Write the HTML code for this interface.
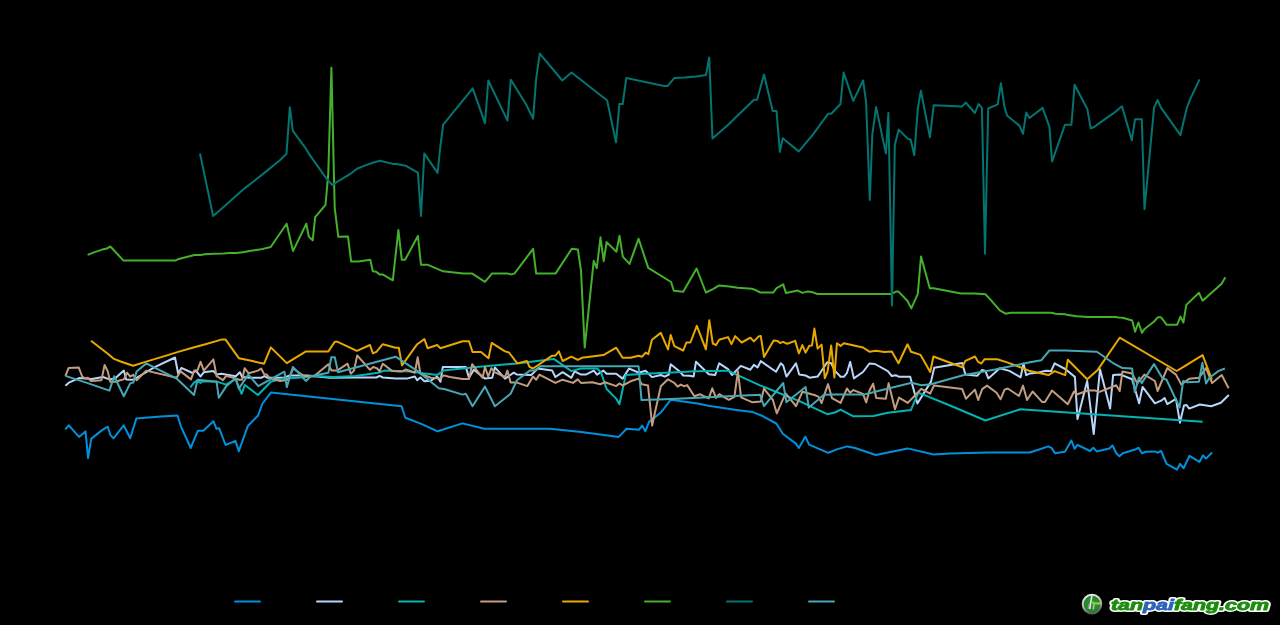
<!DOCTYPE html>
<html><head><meta charset="utf-8"><title>chart</title>
<style>
html,body{margin:0;padding:0;background:#000;width:1280px;height:625px;overflow:hidden}
svg{display:block}
.s{fill:none;stroke-width:2;stroke-linejoin:round;stroke-linecap:butt}
text{font-family:"Liberation Sans",sans-serif}
</style></head><body>
<svg width="1280" height="625" viewBox="0 0 1280 625">
<rect width="1280" height="625" fill="#000"/>
<polyline class="s" stroke="#0090dc" points="65.2,429.4 68.8,425.3 79,436.9 85.5,431.4 88.1,458.2 91.2,438.9 101.7,430.4 107.8,426.7 110.3,434.8 113.5,438.3 123.7,425.3 130.2,438.3 136.3,418.6 160.6,416.6 177.5,415.5 180.9,426.3 190.7,448 197.8,430.8 203.3,430.8 213.4,421.2 216.5,428.8 219.1,428.1 225.6,445 235.4,440.9 238.8,451.1 248,425.7 258.1,415.5 262.2,404 270.9,392.6 401.6,406.3 405.3,417.8 421.9,424.1 437.5,431.3 462.5,423.4 484.4,428.8 550,428.8 581.3,431.9 618.8,436.9 626.6,428.8 639.1,429.7 642.2,425.6 645.3,431.3 649.1,421.9 660.9,412.5 670.9,399.7 686.6,402 697.5,403.6 708.4,405.8 734.7,409.7 752.2,411.9 763.1,416.3 776.3,423.5 782.8,433.8 795.9,443.6 798.8,448 805.4,436.6 809.1,444.7 828.3,452.8 837.5,449.1 847.4,446.4 855,448 875.8,455 907.5,448.4 933.8,454.5 950,453.6 988.3,452.5 1029.8,452.5 1048.4,446.4 1051.7,448.1 1055,453.2 1064.9,451.8 1071.4,440.5 1074.7,448.8 1077.5,444.8 1090,451 1093.3,447.7 1096.6,451.4 1109.3,448.6 1112.5,445.5 1116.3,453.2 1119.5,456.2 1122.8,453.2 1136,449.2 1138.6,447.7 1141.9,453.2 1145.8,451.8 1154.5,451.4 1157.8,452.7 1161.1,451 1166.6,463.9 1176.9,469.6 1180.1,463.9 1183.6,468.3 1189.5,455.8 1199.4,461.9 1203.1,455.3 1206,458.6 1212.1,452.5"/>
<polyline class="s" stroke="#b8d6fc" points="65.4,385.8 69.4,382.3 79,378.1 91.8,379.1 103,377 109.4,379.4 115,378.6 123.8,370.6 126.2,379.4 133.4,379.7 136.6,377.8 154.2,367.4 175,357.5 178.2,373.8 181.4,367.9 192.6,373 195.8,370.6 200.6,376.5 203.8,372.2 213.4,371.1 216.6,374.6 221.4,373.8 235.8,376.2 239.8,372.2 242.2,377 250,377.8 261.2,377.8 264.4,376.2 267.6,377.8 283.6,377.8 290,375.4 307.6,375.4 330,377.8 354,377.5 376.4,377.5 379.6,375.9 382.8,377.5 395.6,378.6 406.8,378.6 414.8,376.5 417.2,380.2 420.4,377.5 424.4,381.3 430.8,380.7 437.2,376.5 440.4,381.8 442.8,366.9 465.8,366.9 469,377.8 473.8,369.8 485,378.6 492.2,377.8 494.9,367.4 505,378.6 513.8,372.7 517,374.6 531.4,374.9 537.8,368.5 552.2,370.6 555.4,377 562.6,372.2 571.4,377.8 574.6,371.4 581,374.6 585.8,374.6 593.8,370.6 597,374.6 603.4,370.6 606.6,373.8 616.2,373.8 622.6,378.6 629,368.5 638.6,372.7 645.6,370.7 652,377.1 660.8,375 664.8,376.6 668.8,374.5 670.7,364.3 680,371.8 683.2,375.5 689.6,375.8 693.6,376.6 696,361.7 708.8,374.2 715.2,375 719.2,363.3 728,369.1 732,375 740.8,365.9 750.4,369.7 753.9,364.9 757.6,367.5 760.8,361.1 776,371.8 780.8,363.3 783.2,365.4 786.4,376.6 796,363.3 799.2,374.5 805.6,375.5 809.6,377.7 817.6,376.6 821.6,370.7 827.2,362.2 831.2,363.3 835,370.9 840.6,376.8 843.8,376.8 847,372.8 850.2,361.9 853.9,378.4 863,372 869.4,363.5 875,364 887.8,371.2 891.8,376 895.8,375.2 899,376.8 910.2,376.8 917.4,403.5 931,381.6 934.2,367.7 962.2,362.9 965.4,374.4 977.4,375.7 982.2,369.9 985.4,370.9 988.3,378.4 999.8,368.3 1009.4,370.9 1020.6,377.3 1023.5,363.5 1026.2,375.2 1030,373.4 1038.8,372.5 1045.8,370.8 1051.1,371.1 1054.6,363.4 1065.2,369 1074.9,376.9 1077.5,419.1 1087.2,381 1093.7,434.1 1100,369.3 1110.1,408.6 1113.1,375.1 1120.6,374.6 1132.1,379.2 1139.1,403.3 1142.6,386.9 1154.9,403.3 1161.1,400.7 1164.6,398 1167.3,404.2 1176,398.9 1179.9,422.7 1184,405.6 1186.6,405.1 1189.2,408.6 1199.8,404.5 1211.2,406.3 1220.9,402.8 1228.8,395"/>
<polyline class="s" stroke="#02b4b2" points="190.4,387.4 194,382.6 197.2,380.6 200.4,383 202,381.4 216.4,381.4 226,384.6 235.6,379 241.6,393.8 244.8,385 258,395 270.8,381.8 282,378.6 298,377.8 314,375.9 333.2,377 355.6,375.9 378,372.7 384.4,370.6 410,371.4 422.8,373.3 437.2,374.9 443.6,370.6 450,369.8 477,366.9 517,363.4 533,361.5 553.8,358.9 571.4,371.1 581,368.5 597,368.5 601,372.2 606.6,389 616.2,398.6 619.4,404.2 625.8,374.9 645,373.8 672,372.6 696,371.3 728,370.7 739.2,375.8 760,385.4 784,395 800,401.4 827.2,414.2 835,412.5 840.6,409.6 853.4,416.3 873.4,416 887.8,412.8 911,409.9 918.2,392.8 921.4,393.9 950,405.5 985.4,420.5 1020.3,409.2 1202.6,421.8"/>
<polyline class="s" stroke="#c49c80" points="65.4,376.2 68.6,367.9 78.7,367.4 82.2,376.5 85.4,378.6 87.8,377.8 91,381 101.4,380.2 104.6,365 107.8,371.4 110.2,381.8 115,381.8 123.8,379.4 127,372.7 130.2,376.5 133.4,374.9 136.6,380.2 146.2,370.6 176.6,377.8 180.6,371.4 191,379.4 194.2,370.6 197.4,370.6 200.6,361.8 203.8,370.6 213.4,359.4 216.6,376.2 223,380.2 226.2,375.9 232.6,377.5 239,379.7 242.2,379.7 244.6,368.2 248.6,373.3 258,370.6 261.2,368.5 264.4,374.6 266.8,374.6 270,378.6 280.4,381 288.4,379.4 293.2,368.5 304.4,376.2 314,376.2 328.4,364.2 331.6,370.6 337.2,370.6 347.6,363.7 350.8,373.8 354,370.6 357.2,355.4 370,369.8 373.2,366.9 377.2,368.5 379.6,371.4 382.8,363.7 392.4,371.1 402,371.4 406,369.5 414.8,372.7 417.7,357.3 420.4,373.8 430.8,377.8 440.4,378.6 443.6,375.4 450,377 462.6,379.1 469,379.1 472.2,364.2 477,370.6 482.6,377.8 485,366.9 488.2,376.5 491.4,368.2 494.6,372.2 505,377 507.4,370.6 510.6,382.6 517,382.6 527.4,386.1 533,376.5 536.2,379.7 539.4,374.6 555.4,382.9 562.6,379.7 573,382.9 577.8,379.4 581,382.9 592.2,382.3 600.2,384.2 605,382.3 616.2,386.1 619.4,383.4 622.6,385.5 630.6,381.3 638.6,378.6 641.8,384.2 648,385.4 652.2,425.6 654.4,415 660.8,386.2 668,379.3 674.4,383 677.6,386.7 680.8,384.6 684,386.2 687.2,385.1 694.4,396.3 700,394.2 704,396.3 708.8,398.2 712.3,388.3 716,397.9 719.2,394.2 728.8,399.8 734.4,396.9 737.9,371.3 741.1,397.4 752,402.2 760.8,401.4 764,388.6 772.8,399.8 776.8,413.4 785.6,393.4 796,406.2 802.4,391.8 814.4,395 818.4,396.6 821.6,403 828,384.1 832,398.2 840.6,402.9 847,388.5 850.2,392.8 853.4,390.1 863,393.9 866.2,402.4 869.4,390.7 873.1,383.7 876.3,398.1 885.9,398.7 888.6,383.2 895,409.3 899,397.6 907.8,402.9 921.4,388.8 930.2,393.6 933.9,385.6 962.2,389.1 965.9,398.7 975,389.6 978.2,400 982.2,389.1 987,385.6 996.6,392.8 1000.6,399.2 1004.6,389.6 1007.8,388.5 1019,396 1023,385.6 1027,400 1032.6,391.5 1042.3,402.1 1045,402.1 1052,390.5 1067.8,404.2 1074,391.5 1076.6,394.5 1088.1,390.5 1095.1,390.5 1099.5,391.9 1116.2,385.2 1119.7,391 1122.4,371.6 1132.1,373.4 1137.3,383.4 1144.4,374.6 1154.9,381 1157.6,391 1167.3,368.1 1176,374.6 1181.3,384.5 1189.2,378.7 1198.9,377.8 1206,368.1 1212.1,383.1 1221.8,375.1 1228.6,388.2"/>
<polyline class="s" stroke="#e8a800" points="91,340.7 107.8,353.8 113.4,358.6 120.6,361.5 133.1,365.8 144.6,362.1 167,355.4 179.8,351.4 192.6,347.7 205.4,344.2 222.2,339.4 225.4,339.4 239,358.3 250,360.5 264.1,363.7 270.8,347.4 286.8,363.1 306,351.4 328.4,351.4 334.8,341.8 337.7,341.8 356.9,350.9 370,345 372.9,353.3 376.4,351.9 382.8,344.2 395.6,347.7 398.8,347.7 402,365.3 417.2,344.2 424.4,339.1 427.6,348.2 437.2,345 440.4,348.2 462.6,341.3 469,341.3 472.5,351.9 481,351.9 488.5,358.3 491.7,342.9 505,351.4 509,352.5 517.3,363.4 526.9,361 529.5,366.9 533,368.5 552.2,355.7 555.4,355.7 558.9,351.4 562.6,361 571.4,356.7 577.8,359.9 581.8,357.8 603.4,355.1 616.2,347.7 622.6,357.8 630.6,357.8 638.6,355.7 642.1,356.7 645.6,352.6 648.3,354.2 652,339.8 660.8,332.9 668,349.4 670.7,335 674.4,346.2 683.2,350.5 686.4,342.5 690.4,342.5 696.8,325.9 705.9,349.4 709.3,320.3 712.8,343.5 716,345.1 719.2,339.8 728,337.1 731.5,344.1 735.2,336.1 741.6,342.5 750.4,337.7 753.9,341.4 758.4,336.6 760.8,336.1 764,356.9 773.6,340.6 777.6,340.9 780,343 783.2,341.9 787.2,343.8 795.2,340.9 798.9,353.4 802.4,345.1 805.6,352.6 809.3,345.7 812,345.4 814.4,328.6 817.6,348.6 821.6,344.6 824.8,378.2 827.5,371.8 831.2,345.4 834.4,377.4 836.9,343.2 840.6,345.9 843.8,343.2 863,347.5 869.4,351.7 875.8,350.7 884.6,352 891.8,351.5 898.5,363.2 907.5,344.3 911,351.7 920.6,354.9 930.2,372 933.4,356.5 962.2,367.2 965.4,360.8 975,356.5 978.2,361.9 981.4,363.5 984.6,359.2 997.4,359.2 1007,362.4 1019,366.7 1030,371.1 1048.5,375.1 1054.6,371.1 1065.2,375.1 1067.8,359.8 1087.2,379.2 1097.7,369.9 1119.7,337.7 1176.6,371 1183.1,367.2 1202.6,355.1 1211.9,379.6"/>
<polyline class="s" stroke="#44b02c" points="87.6,254.9 94.6,252.1 102.2,249.6 106.1,248.8 110.4,246.5 123.5,260.6 175.2,260.6 177.8,259.3 194.4,255 200.8,255 204.6,254.2 213.6,253.7 223.8,253.4 229,252.9 236.7,252.9 244.3,251.9 249.4,250.9 259.7,249.6 270.7,247 286.6,223.7 293,251.1 306.3,223.7 308.8,236.5 312.7,240.4 315.2,217.1 325.5,204.8 328.3,173.3 331.4,67.7 334.7,207.8 338.3,236.8 348,236.5 351.1,261.4 358.3,261.6 370.3,259.8 372.8,271.3 376.2,271.8 379.5,274.4 382.6,274.4 392.8,280.3 398.4,230.1 401.8,259.8 405.1,259.8 417.9,236 421,264.7 427.4,264.7 443.2,271.3 463.2,273.6 472.2,273.6 485,281.8 491.9,273.6 508,273.6 511.1,274.4 514.4,273.6 533.1,248.8 536.2,273.6 555.5,273.6 571.8,248.7 577.9,249.4 581,270.6 584.7,347.6 593.7,260.8 596.8,268.1 600.5,237.3 603.7,261.2 606.6,242.1 616.4,251.8 619.5,235.8 622.8,256.6 629.5,263.9 638.6,238.7 648.2,267.9 671.1,282 673.8,290.8 683.2,291.8 696.6,268.5 705.9,292.5 713.4,288.8 719.1,285.4 729.4,286.5 737.8,287.8 751.9,288.8 754.7,289.7 760.3,292.5 773.4,292.5 776.3,288.4 783.2,284.4 786,293.1 797.8,290.6 802.5,292.9 807.2,291.6 811.9,292.1 817.5,294 890.6,294 896.3,291.6 898.5,291.6 907.5,301 911.3,308.4 917.8,293.8 921,256.5 929.8,288.3 933.6,288.2 961,293.6 974.7,293.6 985.4,294.3 990,299.1 999.8,310.4 1005.6,313.7 1010.5,312.7 1051.5,312.7 1055.4,313.7 1065.2,314.3 1068.1,315.1 1076.9,316.3 1087.7,317 1115,317 1118.9,317.6 1122.8,317.8 1132.2,320.5 1135.1,331.7 1138.4,322.5 1142,332.9 1144.3,329.3 1154.1,321.5 1158,317.2 1160.9,317.2 1166.8,324.8 1177.1,324.8 1180.4,316.6 1183.4,322.5 1186.3,304.9 1199,292.8 1202.5,300.6 1206.8,297.1 1221.4,284 1225.4,277.2"/>
<polyline class="s" stroke="#037470" points="200,153.5 213.1,216 218.7,211.2 244.3,188.6 262.2,174.6 280.2,160 286.5,153.8 289.8,107.2 292.9,130.9 304.8,147.1 308.3,152.8 326.3,178.4 332.1,184.8 342.9,178.4 351.9,172.8 357,168.7 364.7,165.6 373.6,162.5 380,160.8 392.8,163.9 396.6,163.9 405.6,165.7 417.9,172.6 421,216 424.3,153.6 437.6,172.9 440.2,147.5 443.2,124.7 472.7,88.4 485,123.2 488.3,80.5 507.5,120.6 510.8,79.7 525.9,104 533.1,118.6 536.2,78.4 539.8,53.6 562.3,80.5 571.5,72.5 600.2,95 607.1,100.2 616,142.4 619.4,104 622.7,104 626.3,77.9 664.2,86.1 667.5,86.1 674.4,77.9 684.7,77.6 690,77.1 696.4,76.6 705.9,75.1 709.2,57.4 712.5,138.6 728.4,124.5 754,99.7 757.1,99.7 764,74.6 772.7,110.9 776.5,110.9 779.9,151.9 782.7,138.3 798.8,151.4 812.9,134.7 828.2,113.7 831.3,113.7 840.5,104 843.6,72.5 853.3,100.9 863.1,80.5 866.1,102.2 869.8,200 872.3,134.7 876.1,107.1 885.9,153.4 888.4,113 892,305.5 894.8,145 898.7,129.6 907.6,138.6 910.7,139.8 914.3,155.2 917.9,107.8 920.9,90.7 929.9,137.3 933.7,105.3 961.9,106.6 965.7,102.5 974.9,113 978.5,104 981.9,107.8 985,253.8 988.2,108.5 997.7,104.4 1000.9,83.2 1004.5,107.1 1007.2,115.8 1019.4,125.6 1023,133.8 1026.2,112.6 1029.5,118 1042.6,107.9 1049.4,126.7 1052.1,161.5 1064.9,124.8 1071.4,124.8 1074.6,84.8 1087.4,109.3 1090.7,128.3 1094.2,127 1099.7,122.9 1113.3,113.4 1122,106.3 1131.8,140.3 1135,119.3 1141.8,119.3 1144.5,209.1 1154.1,107.7 1157.6,99.8 1160.9,107.7 1167.7,117.2 1180.4,135.1 1186.7,108.5 1189.4,100.9 1199.5,79.4"/>
<polyline class="s" stroke="#46a8b4" points="65.4,375.9 87,382.9 109.4,390.6 114.2,376.2 123.8,396.2 130.2,383.4 133.4,382.6 136.6,371.4 146.2,363.4 176.6,378.6 194,395 197.6,379.8 216.6,381.8 218.8,397.8 226,386.6 235.6,378.2 238.8,388.6 248.4,374.6 258.3,386.1 284.4,371.7 286.8,387.1 292.9,366.9 306,381 310.8,376.2 328.4,372.7 331.3,357.3 334.8,357.3 338,372.2 395.6,356.7 418,371.4 438.8,388.2 445,389.3 462.6,394.6 465.8,393.8 472.5,406.3 485,386.6 494.9,406.3 510.6,393.8 517,380.2 529.8,370.6 534.6,370.6 540.2,366.3 638.6,366.3 641.5,399.9 672,399 760,394.7 764,406.2 783.2,383 786.4,402.2 805.6,387 808.8,407.5 824,394.7 835,394.4 864.6,394.4 875,391.7 911.8,382.7 921.4,385.3 931,384.3 963,375.2 995,369.6 1030,362.3 1041.4,360.2 1049.4,350.5 1065.2,350.5 1089.8,351.4 1096.9,351.7 1112.7,362.8 1122.4,368.1 1132.1,368.6 1134.7,391.9 1139.1,377.4 1141.7,383.1 1154,364.1 1162.8,378.7 1166.4,379.5 1179.6,407.4 1183.1,381 1187.5,382.2 1198.9,381.7 1202.4,362.8 1206,383.4 1209.5,377.8 1218.3,371.1 1224.9,368.5"/>
<g><line x1="235" y1="601.5" x2="260" y2="601.5" stroke="#0090dc" stroke-width="2" stroke-linecap="round"/>
<line x1="317" y1="601.5" x2="342" y2="601.5" stroke="#b8d6fc" stroke-width="2" stroke-linecap="round"/>
<line x1="399" y1="601.5" x2="424" y2="601.5" stroke="#02b4b2" stroke-width="2" stroke-linecap="round"/>
<line x1="481" y1="601.5" x2="506" y2="601.5" stroke="#c49c80" stroke-width="2" stroke-linecap="round"/>
<line x1="563" y1="601.5" x2="588" y2="601.5" stroke="#e8a800" stroke-width="2" stroke-linecap="round"/>
<line x1="645" y1="601.5" x2="670" y2="601.5" stroke="#44b02c" stroke-width="2" stroke-linecap="round"/>
<line x1="727" y1="601.5" x2="752" y2="601.5" stroke="#037470" stroke-width="2" stroke-linecap="round"/>
<line x1="809" y1="601.5" x2="834" y2="601.5" stroke="#46a8b4" stroke-width="2" stroke-linecap="round"/></g>
<g id="logo" style="will-change:transform">
<defs>
<radialGradient id="lg" cx="0.5" cy="0.45" r="0.6"><stop offset="0" stop-color="#2f9a34"/><stop offset="1" stop-color="#1f7a26"/></radialGradient>
<linearGradient id="rg" x1="0" y1="0" x2="0.3" y2="1"><stop offset="0" stop-color="#f4f4f4"/><stop offset="0.6" stop-color="#b8b8b8"/><stop offset="1" stop-color="#606060"/></linearGradient>
</defs>
<circle cx="1092" cy="604.1" r="9.3" fill="url(#lg)" stroke="url(#rg)" stroke-width="2"/>
<path d="M1091.9 595.3 L1089.7 609" stroke="#e4e4e4" stroke-width="1.6" fill="none"/>
<path d="M1094.2 603.6 L1093.2 609.3" stroke="#c8c8c8" stroke-width="1.3" fill="none"/>
<path d="M1088.9 603.6 L1088.2 609" stroke="#a0a0a0" stroke-width="0.8" fill="none"/>
<path d="M1092 601.5 Q1096 603.2 1101.2 602 L1101 604.2 Q1096 605.3 1092 603.3 Z" fill="#9cd03c"/>
<text x="1111" y="609.5" font-size="15" font-weight="bold" font-style="italic" textLength="158" lengthAdjust="spacingAndGlyphs" fill="#fff" stroke="#fff" stroke-width="3.8" stroke-linejoin="round">tanpaifang.com</text>
<text x="1111" y="609.5" font-size="15" font-weight="bold" font-style="italic" textLength="158" lengthAdjust="spacingAndGlyphs" fill="#1b8e0c" stroke="#1b8e0c" stroke-width="0.9" stroke-linejoin="round">tan<tspan fill="#2e64b8" stroke="#2e64b8">pai</tspan>fang.com</text>
</g>
</svg>
</body></html>
